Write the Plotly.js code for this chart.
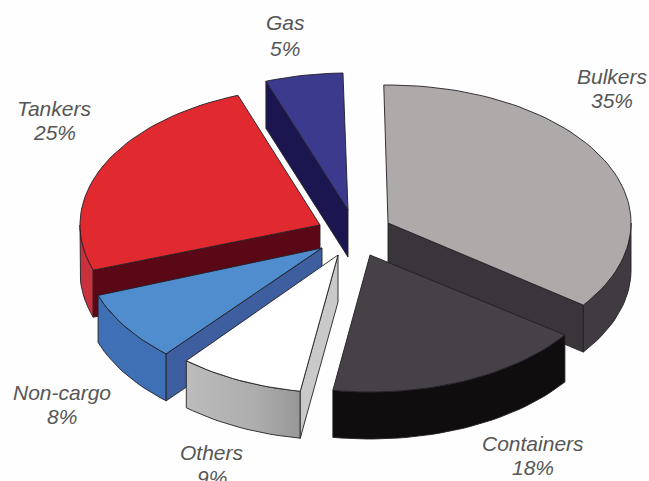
<!DOCTYPE html>
<html>
<head>
<meta charset="utf-8">
<script src="https://cdn.plot.ly/plotly-3.0.1.min.js"></script>
<style>html,body{margin:0;padding:0;background:#fefefe;overflow:hidden}#chart{width:649px;height:481px}</style>
</head>
<body>
<div id="chart"></div>
<script>
// Data
const categories = ['Bulkers', 'Containers', 'Others', 'Non-cargo', 'Tankers', 'Gas'];
const shares = [35, 18, 9, 8, 25, 5];

// Styles
const topColors = ['#aeaaaa', '#454147', '#ffffff', '#4f8dcf', '#e02a2f', '#3b3a8c'];
const rimColors = ['#3f3b41', '#100d0f', '#a9a9a9', '#3f70b6', '#c9323c', '#1b1650'];
const cutColors = ['#39353b', '#100d0f', '#c9c9c9', '#3d5f9f', '#5a0816', '#1b1650'];

// Exploded-view geometry (pixel space of the page)
const apexX = [388, 370, 338, 322, 320, 348];
const apexY = [223, 255, 255, 248, 225, 210];
const radiusX = [243, 240, 236, 238, 240, 240];
const radiusY = [138, 137, 138, 140, 138, 137];
const startNudge = [-1, -0.3, -1.6, -2.3, -1.1, -2];
const endNudge = [0.5, -1.9, -3.2, -1.8, -2, -1.2];
const cutEdge = ['end', 'none', 'start', 'start', 'start', 'start'];
const depth = 47;
const drawOrder = [0, 5, 4, 3, 2, 1];

// Label placement
const labelX = [612, 533, 212, 62, 54, 285];
const labelY1 = [76, 443, 452, 392, 108, 22];
const labelY2 = [100, 467, 477, 416, 132, 48];

const total = shares.reduce((a, b) => a + b, 0);
let running = 0;
const angles = shares.map((s, i) => {
  const a0 = running / total * 360 + startNudge[i];
  running += s;
  const a1 = running / total * 360 + endNudge[i];
  return [a0, a1];
});

function rimPoint(i, deg) {
  const r = deg * Math.PI / 180;
  return [apexX[i] + radiusX[i] * Math.sin(r), apexY[i] - radiusY[i] * Math.cos(r)];
}
function arc(i, from, to) {
  const pts = [];
  const n = Math.max(2, Math.ceil(Math.abs(to - from) / 2));
  for (let k = 0; k <= n; k++) pts.push(rimPoint(i, from + (to - from) * k / n));
  return pts;
}
function poly(pts, color, name) {
  const closed = pts.concat([pts[0]]);
  return {
    type: 'scatter', mode: 'lines', fill: 'toself', fillcolor: color,
    x: closed.map(p => p[0]), y: closed.map(p => p[1]),
    line: {color: '#241f26', width: 0.9},
    hoverinfo: 'text', hoveron: 'fills', text: name, showlegend: false
  };
}

const traces = [];
drawOrder.forEach(i => {
  const [a0, a1] = angles[i];
  const name = categories[i] + ' ' + shares[i] + '%';
  const apex = [apexX[i], apexY[i]];
  // outer rim: only the part facing the viewer
  const r0 = Math.max(a0, 90), r1 = Math.min(a1, 270);
  if (r1 > r0) {
    const upper = arc(i, r0, r1);
    const lower = upper.slice().reverse().map(p => [p[0], p[1] + depth]);
    const rim = poly(upper.concat(lower), rimColors[i], name);
    if (categories[i] === 'Others') {
      rim.fillgradient = {type: 'horizontal', colorscale: [[0, '#bcbcbc'], [0.6, '#adadad'], [1, '#979797']]};
    }
    traces.push(rim);
  }
  // cut face
  if (cutEdge[i] !== 'none') {
    const e = rimPoint(i, cutEdge[i] === 'start' ? a0 : a1);
    traces.push(poly([apex, e, [e[0], e[1] + depth], [apex[0], apex[1] + depth]], cutColors[i], name));
  }
  // top face
  traces.push(poly([apex].concat(arc(i, a0, a1)), topColors[i], name));
});

const annotations = [];
categories.forEach((c, i) => {
  [[c, labelY1[i]], [shares[i] + '%', labelY2[i]]].forEach(([t, y]) => {
    annotations.push({
      x: labelX[i], y: y, xref: 'x', yref: 'y', text: t, showarrow: false,
      xanchor: 'center', yanchor: 'middle',
      font: {family: 'Liberation Sans, Arial, sans-serif', size: 21, color: '#565656', style: 'italic'}
    });
  });
});

Plotly.newPlot('chart', traces, {
  width: 649, height: 481,
  margin: {l: 0, r: 0, t: 0, b: 0},
  paper_bgcolor: '#fefefe', plot_bgcolor: '#fefefe',
  xaxis: {range: [0, 649], visible: false, fixedrange: true},
  yaxis: {range: [481, 0], visible: false, fixedrange: true},
  annotations: annotations, showlegend: false
}, {displayModeBar: false});
</script>
</body>
</html>
